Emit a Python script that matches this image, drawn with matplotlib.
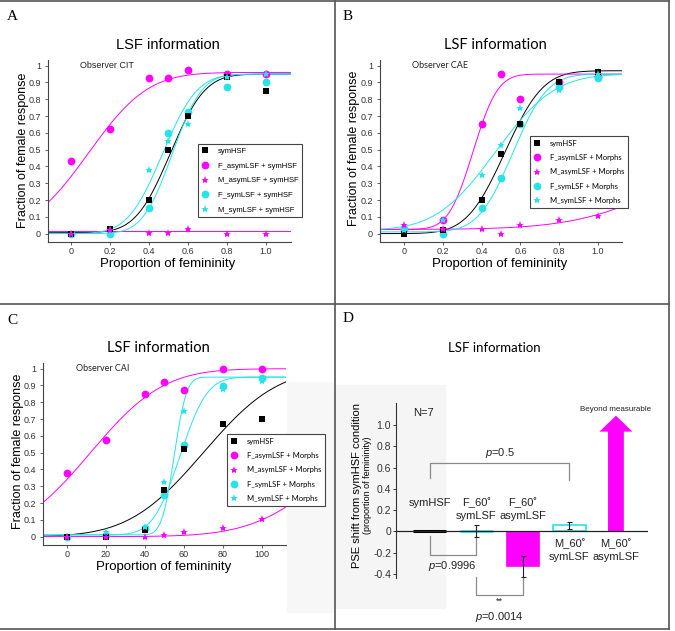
import math
import numpy as np
import matplotlib
matplotlib.use('Agg')
import matplotlib.pyplot as plt
from matplotlib.patches import FancyArrow, Rectangle
from matplotlib.lines import Line2D

plt.rcParams['font.family'] = ['Liberation Sans', 'DejaVu Sans']
plt.rcParams['mathtext.fontset'] = 'custom'
plt.rcParams['mathtext.it'] = 'Liberation Sans:italic'
plt.rcParams['mathtext.rm'] = 'Liberation Sans'

MAG = '#FF00FF'
CYAN = '#25E3E8'
GRAYTXT = '#333333'

# ---------------- data ----------------
series_names_A = ['symHSF', 'F_asymLSF + symHSF', 'M_asymLSF + symHSF',
                  'F_symLSF + symHSF', 'M_symLSF + symHSF']
series_names_BC = ['symHSF', 'F_asymLSF + Morphs', 'M_asymLSF + Morphs',
                   'F_symLSF + Morphs', 'M_symLSF + Morphs']

# Panel A: Observer CIT
xA = [0, 0.2, 0.4, 0.5, 0.6, 0.8, 1.0]
A_symHSF = [0.0, 0.03, 0.2, 0.5, 0.7, 0.93, 0.85]
A_F_asym = [0.43, 0.625, 0.925, 0.925, 0.975, 0.95, 0.95]
A_M_asym = [0.0, 0.02, 0.005, 0.005, 0.03, 0.0, 0.0]
A_F_sym = [0.0, 0.0, 0.15, 0.6, 0.725, 0.875, 0.9]
A_M_sym = [0.0, 0.02, 0.38, 0.55, 0.65, 0.93, 0.95]
# fitted psychometric functions: (mu, sigma, lower, upper)
A_fit = [(0.51, 0.14, 0.005, 0.95), (0.09, 0.24, 0.0, 0.96), (3.0, 0.3, 0.015, 0.015),
         (0.47, 0.14, 0.0, 0.95), (0.52, 0.12, 0.0, 0.95)]

# Panel B: Observer CAE
xB = [0, 0.2, 0.4, 0.5, 0.6, 0.8, 1.0]
B_symHSF = [0.0, 0.02, 0.2, 0.475, 0.65, 0.9, 0.96]
B_F_asym = [0.03, 0.08, 0.65, 0.95, 0.8, 0.905, 0.93]
B_M_asym = [0.054, 0.03, 0.03, 0.0, 0.05, 0.08, 0.103]
B_F_sym = [0.03, 0.0, 0.15, 0.33, 0.65, 0.875, 0.925]
B_M_sym = [0.02, 0.08, 0.35, 0.525, 0.75, 0.855, 0.95]
B_fit = [(0.52, 0.155, 0.0, 0.97), (0.355, 0.1, 0.025, 0.95), (1.645, 0.484, 0.025, 1.0),
         (0.56, 0.14, 0.01, 0.95), (0.47, 0.24, 0.02, 0.95)]

# Panel C: Observer CAI
xC = [0, 20, 40, 50, 60, 80, 100]
C_symHSF = [0.0, 0.0, 0.04, 0.28, 0.52, 0.673, 0.7]
C_F_asym = [0.376, 0.574, 0.848, 0.92, 0.871, 1.0, 1.0]
C_M_asym = [0.0, 0.0, 0.0, 0.01, 0.03, 0.053, 0.103]
C_F_sym = [0.0, 0.01, 0.053, 0.247, 0.548, 0.895, 0.947]
C_M_sym = [0.0, 0.03, 0.06, 0.327, 0.75, 0.877, 0.925]
C_fit = [(70, 30, 0.0, 1.0), (12, 29.4, 0.0, 1.0), (145, 35, 0.0, 1.0),
         (58, 11, 0.01, 0.95), (55, 5, 0.01, 0.95)]

# Panel D: PSE shifts
d_pos = [1, 2, 3, 4, 5]
d_top_labels = ['symHSF', 'F_60\u02da', 'F_60\u02da', 'M_60\u02da', 'M_60\u02da']
d_bot_labels = ['', 'symLSF', 'asymLSF', 'symLSF', 'asymLSF']
d_values = [0.0, 0.0, -0.33, 0.055, 0.0]
d_errors = [0.0, 0.058, 0.1, 0.037, 0.0]
d_arrow_top = 1.09   # "Beyond measurable"
d_yticks = [-0.4, -0.2, 0, 0.2, 0.4, 0.6, 0.8, 1.0]
d_yticklabels = ['-0.4', '-0.2', '0', '0.2', '0.4', '0.6', '0.8', '1.0']

# ---------------- helpers ----------------
_erf = np.vectorize(math.erf)


def psych(x, mu, sigma, lo, hi):
    return lo + (hi - lo) * 0.5 * (1 + _erf((x - mu) / (sigma * math.sqrt(2))))


W, H = 675, 631
fig = plt.figure(figsize=(W / 100, H / 100), dpi=100)


def fx(px):
    return px / W


def fy(py):
    return 1 - py / H


def axes_px(l, t, r, b):
    ax = fig.add_axes([fx(l), fy(b), (r - l) / W, (b - t) / H])
    ax.set_zorder(2)
    return ax


# faint background areas (watermark regions)
fig.patches.append(Rectangle((fx(287), fy(612)), (334 - 287) / W, (612 - 382) / H,
                             transform=fig.transFigure, color='#f7f7f7', zorder=-5))
fig.patches.append(Rectangle((fx(336), fy(608)), (445 - 336) / W, (608 - 385) / H,
                             transform=fig.transFigure, color='#f5f5f5', zorder=-5))

colors = ['black', MAG, MAG, CYAN, CYAN]
markers = ['s', 'o', '*', 'o', '*']
msizes = [4.2, 5.6, 6.0, 5.6, 6.0]


def psych_panel(ax, x, series, fits, names, xlim, xticks, xticklabels, observer,
                obs_x, legend_anchor, legend_font):
    ax.set_facecolor('none')
    xs = np.linspace(xlim[0], xlim[1], 300)
    for (mu, sg, lo, hi), c in zip(fits, colors):
        ax.plot(xs, psych(xs, mu, sg, lo, hi), color=c, lw=0.7, zorder=2)
    handles = []
    zorders = [4, 3, 5, 3.5, 4.5]
    for y, c, m, ms, nm, z in zip(series, colors, markers, msizes, names, zorders):
        h, = ax.plot(x, y, linestyle='none', marker=m, color=c, markersize=ms,
                     markeredgewidth=0, label=nm, zorder=z)
        handles.append(h)
    ax.set_xlim(*xlim)
    ax.set_ylim(-0.05, 1.034)
    ax.set_xticks(xticks)
    ax.set_xticklabels(xticklabels)
    ax.set_yticks(np.arange(0, 1.01, 0.1))
    ax.set_yticklabels(['0', '0.1', '0.2', '0.3', '0.4', '0.5', '0.6', '0.7', '0.8', '0.9', '1'])
    for s in ['top', 'right']:
        ax.spines[s].set_visible(False)
    for s in ['left', 'bottom']:
        ax.spines[s].set_color('#444444')
        ax.spines[s].set_linewidth(0.8)
    ax.tick_params(labelsize=6.5, colors='#444444', labelcolor=GRAYTXT, length=2, width=0.6,
                   pad=3)
    ax.tick_params(axis='x', pad=1.5)
    ax.text(obs_x, 1.0, observer, fontsize=6.5, ha='left', va='center',
            family=legend_font, color='#222222')
    leg = fig.legend(handles=handles, loc='upper left', bbox_to_anchor=legend_anchor,
                     bbox_transform=fig.transFigure, frameon=True, borderaxespad=0,
                     fancybox=False, edgecolor='#444444', framealpha=1,
                     handlelength=0.8, handletextpad=1.3, labelspacing=0.95,
                     borderpad=0.5, prop={'family': legend_font, 'size': 5.5})
    leg.set_zorder(6)
    leg.get_frame().set_linewidth(0.8)
    return ax


# ---------- Panel A ----------
axA = axes_px(48, 60, 291, 242)
psych_panel(axA, xA, [A_symHSF, A_F_asym, A_M_asym, A_F_sym, A_M_sym], A_fit,
            series_names_A, (-0.118, 1.13), [0, 0.2, 0.4, 0.6, 0.8, 1.0],
            ['0', '0.2', '0.4', '0.6', '0.8', '1.0'], 'Observer CIT', 0.045,
            (fx(198), fy(144)), 'Liberation Sans')
fig.text(fx(168), fy(45), 'LSF information', fontsize=10.5, ha='center', va='center')
fig.text(fx(168), fy(264), 'Proportion of femininity', fontsize=9.5, ha='center', va='center')
fig.text(fx(23), fy(150), 'Fraction of female response', fontsize=9, ha='center',
         va='center', rotation=90)

# ---------- Panel B ----------
axB = axes_px(380, 60, 622, 242)
psych_panel(axB, xB, [B_symHSF, B_F_asym, B_M_asym, B_F_sym, B_M_sym], B_fit,
            series_names_BC, (-0.125, 1.124), [0, 0.2, 0.4, 0.6, 0.8, 1.0],
            ['0', '0.2', '0.4', '0.6', '0.8', '1.0'], 'Observer CAE', 0.04,
            (fx(530), fy(136)), 'Lato')
fig.text(fx(495), fy(45), 'LSF information', fontsize=10.5, ha='center', va='center',
         family='Lato')
fig.text(fx(500), fy(264), 'Proportion of femininity', fontsize=9.5, ha='center', va='center')
fig.text(fx(354), fy(148), 'Fraction of female response', fontsize=9, ha='center',
         va='center', rotation=90)

# ---------- Panel C ----------
axC = axes_px(43, 363, 286, 545)
psych_panel(axC, xC, [C_symHSF, C_F_asym, C_M_asym, C_F_sym, C_M_sym], C_fit,
            series_names_BC, (-12.4, 112.5), [0, 20, 40, 60, 80, 100],
            ['0', '20', '40', '60', '80', '100'], 'Observer CAI', 4.5,
            (fx(227), fy(434)), 'Lato')
fig.text(fx(158), fy(348), 'LSF information', fontsize=10.5, ha='center', va='center',
         family='Lato')
fig.text(fx(164), fy(567), 'Proportion of femininity', fontsize=9.5, ha='center', va='center')
fig.text(fx(18), fy(451), 'Fraction of female response', fontsize=9, ha='center',
         va='center', rotation=90)

# ---------- Panel D ----------
axD = axes_px(396, 403, 648, 578)
axD.set_facecolor('none')
bw = 0.71
axD.bar(d_pos[0], d_values[0], width=bw, color='black', edgecolor='black', lw=2.2, zorder=3)
axD.bar(d_pos[1], d_values[1], width=bw, color=CYAN, edgecolor=CYAN, lw=1.8, zorder=3)
axD.bar(d_pos[2], d_values[2], width=bw, color=MAG, edgecolor=MAG, lw=0.5, zorder=3)
axD.bar(d_pos[3], d_values[3], width=bw, facecolor='white', edgecolor=CYAN, lw=1.2, zorder=3)
axD.errorbar(d_pos[1:4], d_values[1:4], yerr=d_errors[1:4], fmt='none', ecolor='#222222',
             elinewidth=0.8, capsize=1.8, capthick=0.8, zorder=5)
axD.add_patch(FancyArrow(d_pos[4], 0, 0, d_arrow_top, width=0.34, head_width=0.71,
                         head_length=0.15, length_includes_head=True, color=MAG, lw=0,
                         zorder=3))
axD.axhline(0, color='#222222', lw=0.9, zorder=4)
axD.set_xlim(0.269, 5.69)
axD.set_ylim(-0.44, 1.21)
axD.set_xticks([])
axD.set_yticks(d_yticks)
axD.set_yticklabels(d_yticklabels)
for s in ['top', 'right', 'bottom']:
    axD.spines[s].set_visible(False)
axD.spines['left'].set_color('#333333')
axD.spines['left'].set_linewidth(0.8)
axD.tick_params(axis='y', labelsize=7.5, length=2.5, width=0.7, colors='#333333', pad=1)

for i, (p, t, b) in enumerate(zip(d_pos, d_top_labels, d_bot_labels)):
    if i < 3:
        y1, y2 = 0.27, 0.14
    else:
        y1, y2 = -0.12, -0.245
    axD.text(p, y1, t, fontsize=8, ha='center', va='center', color='#222222')
    if b:
        axD.text(p, y2, b, fontsize=8, ha='center', va='center', color='#222222')

axD.text(0.85, 1.12, 'N=7', fontsize=8, ha='center', va='center', color='#222222')
axD.text(5.0, 1.15, 'Beyond measurable', fontsize=5.8, ha='center', va='center',
         color='#222222', clip_on=False)

br = dict(color='#8a8a8a', lw=0.9, clip_on=False, zorder=2)
axD.plot([1, 1, 4, 4], [0.5, 0.64, 0.64, 0.48], **br)
axD.text(2.5, 0.74, '$p$=0.5', fontsize=8, ha='center', va='center', color='#222222')
axD.plot([1, 1, 2, 2], [-0.04, -0.22, -0.22, -0.04], **br)
axD.text(1.49, -0.33, '$p$=0.9996', fontsize=8, ha='center', va='center', color='#222222',
         clip_on=False)
axD.plot([2, 2, 3, 3], [-0.43, -0.6, -0.6, -0.43], **br)
axD.text(2.5, -0.66, '**', fontsize=6.5, ha='center', va='center', color='#222222',
         clip_on=False)
axD.text(2.5, -0.81, '$p$=0.0014', fontsize=8, ha='center', va='center', color='#222222',
         clip_on=False)

fig.text(fx(494), fy(348), 'LSF information', fontsize=9.5, ha='center', va='center',
         family='Lato')
fig.text(fx(357), fy(485), 'PSE shift from symHSF condition', fontsize=8, ha='center',
         va='center', rotation=90)
fig.text(fx(368), fy(485), '(proportion of femininity)', fontsize=6.5, ha='center',
         va='center', rotation=90)

# panel letters
for lab, (px, py) in zip(['A', 'B', 'C', 'D'], [(12, 17), (348, 17), (12, 320), (348, 318)]):
    fig.text(fx(px), fy(py), lab, fontsize=11, ha='center', va='center',
             family='Liberation Serif')

# panel borders
bcol = '#555555'
for (x0, y0, x1, y1) in [(0, 1, 669, 1), (0, 629, 669, 629), (0, 304, 669, 304),
                         (335, 1, 335, 629), (668.5, 1, 668.5, 629)]:
    fig.add_artist(Line2D([fx(x0), fx(x1)], [fy(y0), fy(y1)], color=bcol, lw=1.2,
                          transform=fig.transFigure))

fig.savefig('out.png', dpi=100)
